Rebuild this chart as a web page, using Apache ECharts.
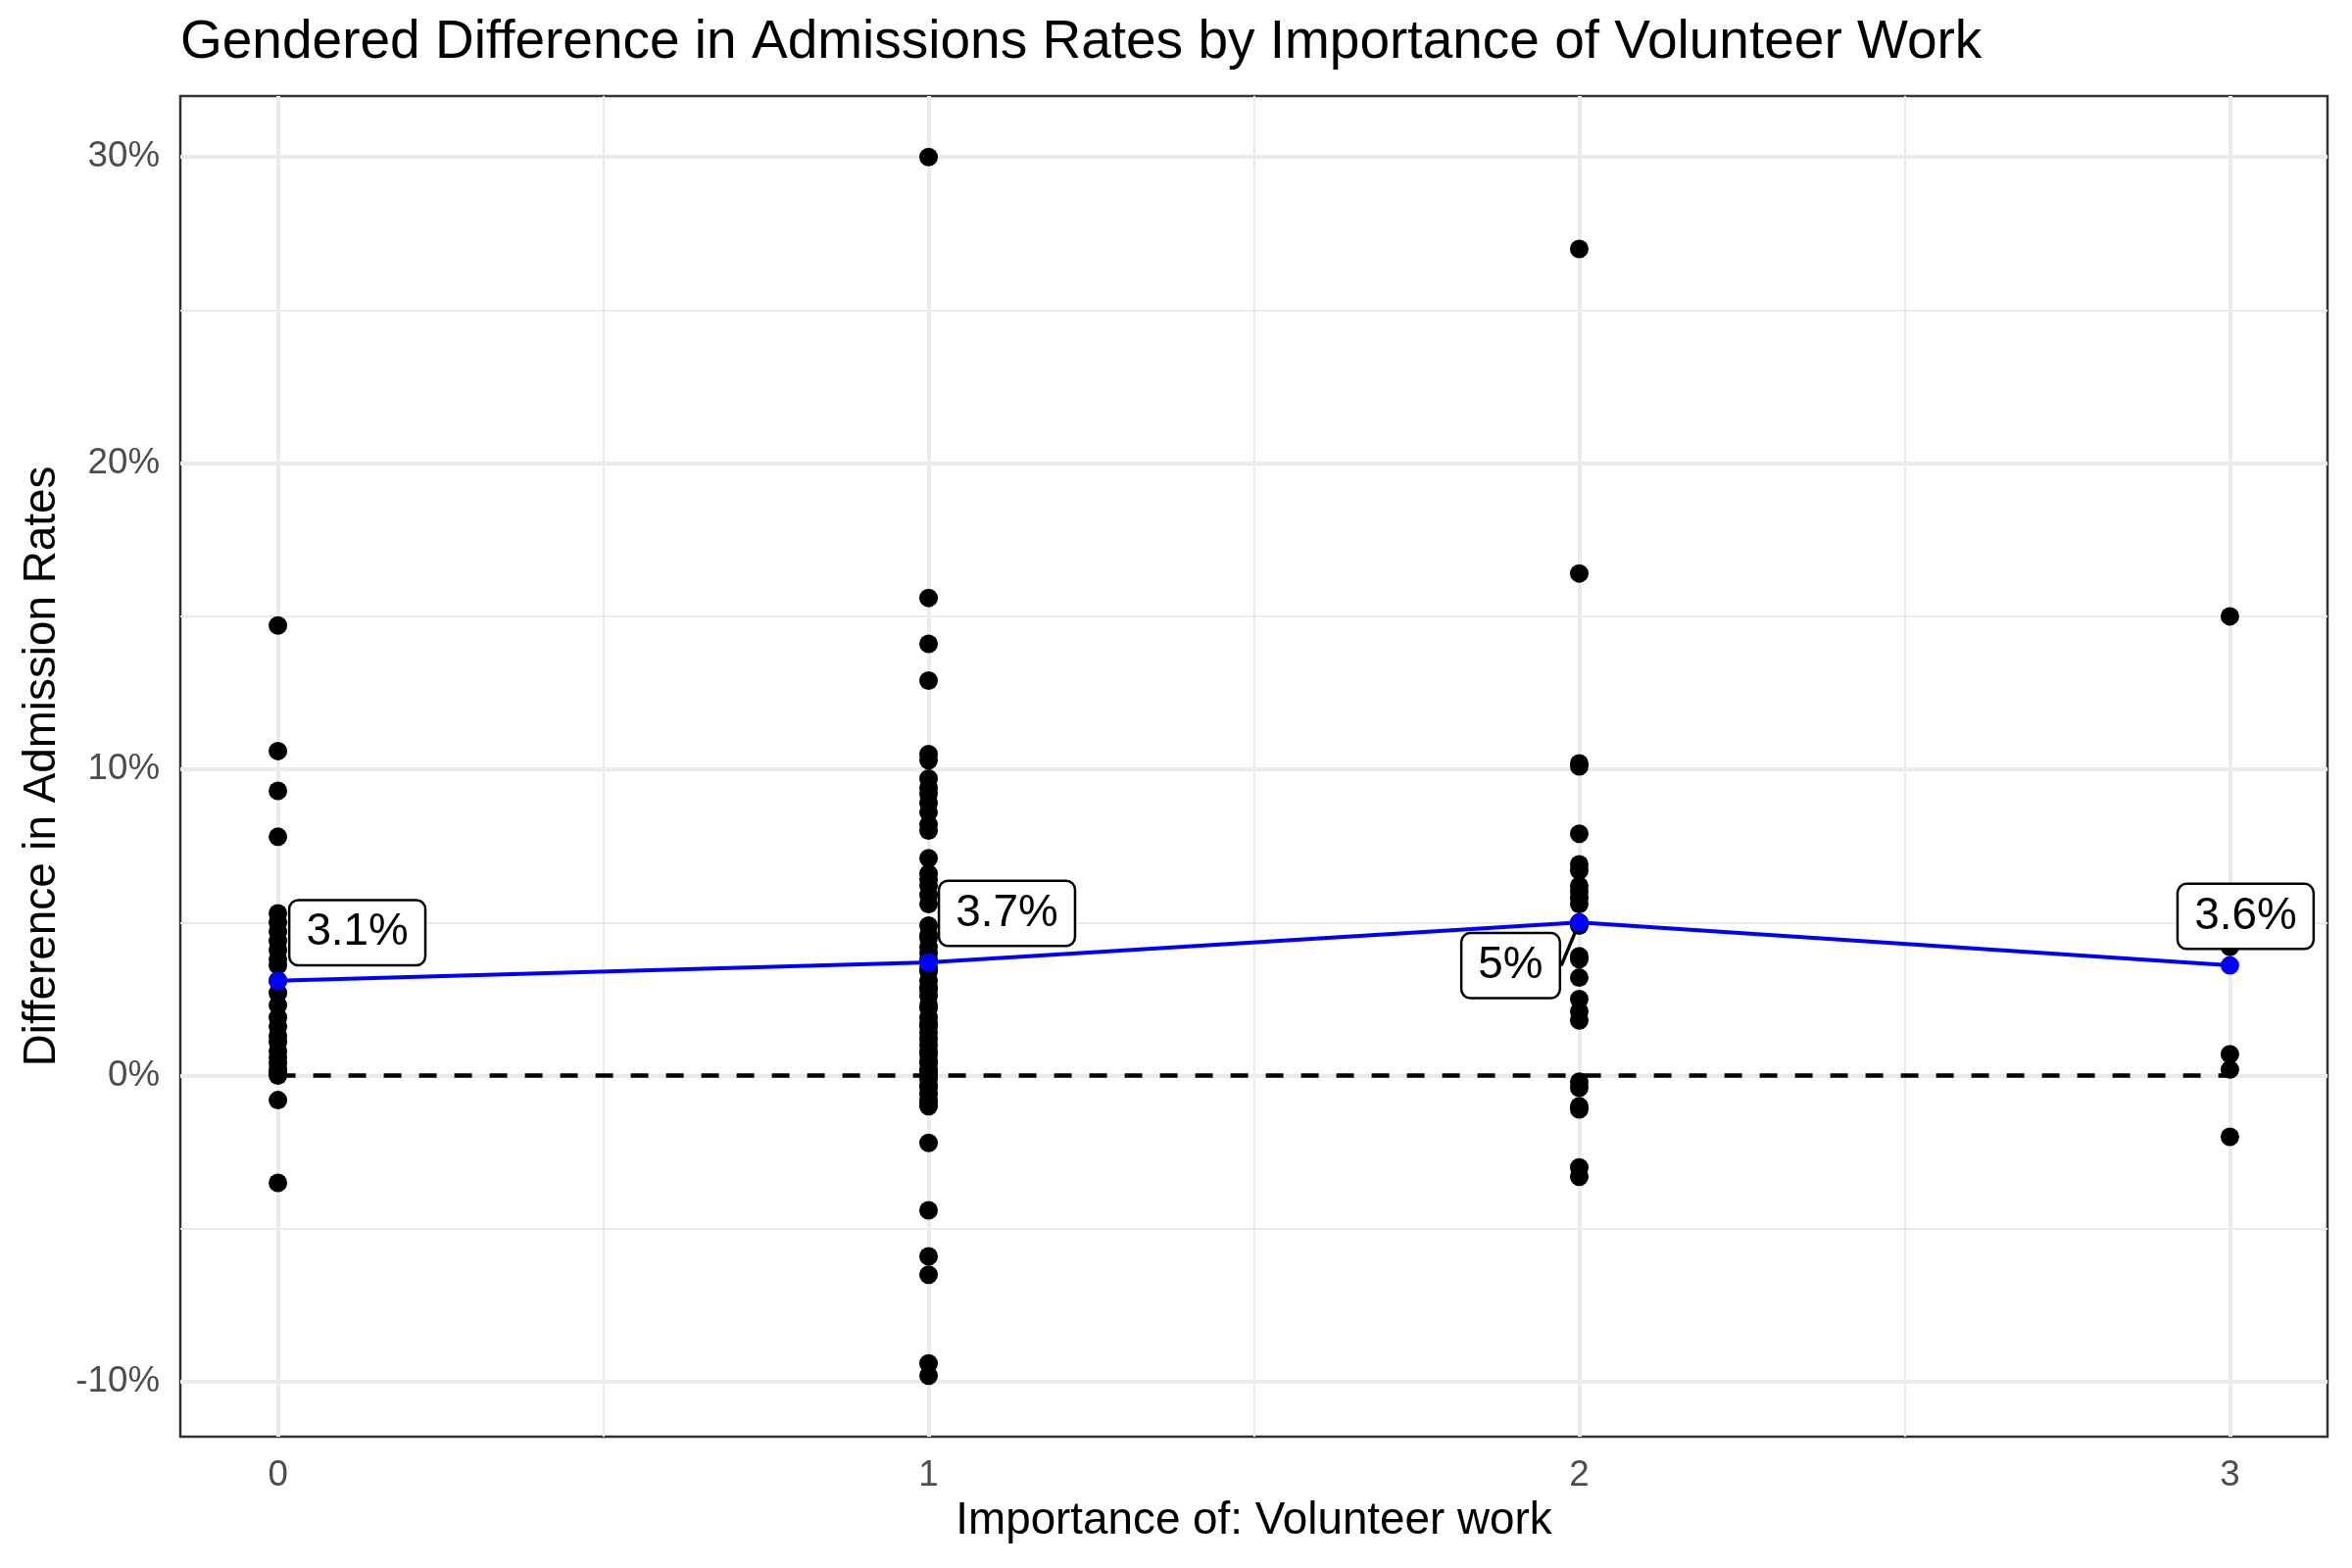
<!DOCTYPE html>
<html>
<head>
<meta charset="utf-8">
<script src="https://cdn.jsdelivr.net/npm/echarts@6/dist/echarts.min.js"></script>
<style>
html,body{margin:0;padding:0;background:#ffffff;}
#chart{width:2400px;height:1600px;}
</style>
</head>
<body>
<div id="chart"></div>
<script>
// ---------------- data ----------------
const chartTitle = 'Gendered Difference in Admissions Rates by Importance of Volunteer Work';
const xAxisTitle = 'Importance of: Volunteer work';
const yAxisTitle = 'Difference in Admission Rates';

const importanceLevels = [0, 1, 2, 3];
const xTickValues = [0, 1, 2, 3];
const xMinorGridValues = [0.5, 1.5, 2.5];
const yTickValues = [-10, 0, 10, 20, 30];
const yMinorGridValues = [-5, 5, 15, 25];

// difference in admission rates (percentage points) per school, by importance level
const diffImportance0 = [14.7, 10.6, 9.3, 7.8, 5.3, 5.0, 4.7, 4.4, 4.1, 3.8, 3.6, 3.1, 2.7, 2.3,
  1.9, 1.6, 1.3, 1.1, 0.8, 0.6, 0.4, 0.2, 0.1, 0.0, -0.8, -3.5];
const diffImportance1 = [30.0, 15.6, 14.1, 12.9, 10.5, 10.3, 9.7, 9.4, 9.2, 8.9, 8.6, 8.2, 8.0,
  7.1, 6.6, 6.4, 6.2, 5.9, 5.6,
  4.9, 4.6, 4.5, 4.2, 4.0, 3.8, 3.5, 3.4, 3.1, 2.9, 2.8, 2.6, 2.3, 2.2, 1.9, 1.7, 1.6, 1.4,
  1.2, 1.0, 0.8, 0.7, 0.5, 0.4, 0.2, 0.1, 0.0, -0.1, -0.3, -0.4, -0.6, -0.8, -0.9, -1.0,
  -2.2, -4.4, -5.9, -6.5, -9.4, -9.8];
const diffImportance2 = [27.0, 16.4, 10.2, 10.1, 7.9, 6.9, 6.7, 6.2, 6.0, 5.8, 5.6, 5.0, 4.9,
  3.9, 3.8, 3.2, 2.5, 2.1, 1.8, -0.2, -0.4, -1.0, -1.1, -3.0, -3.3];
const diffImportance3 = [15.0, 4.2, 0.7, 0.2, -2.0];

// mean difference per importance level
const meanDiff = [3.1, 3.7, 5.0, 3.6];
const meanLabels = ['3.1%', '3.7%', '5%', '3.6%'];
const referenceValue = 0;

// ---------------- build ----------------
const groups = [diffImportance0, diffImportance1, diffImportance2, diffImportance3];
const pointData = [];
groups.forEach((arr, i) => arr.forEach(v => pointData.push([importanceLevels[i], v])));

// ggplot-like 5% expansion of the continuous scales
const allY = pointData.map(p => p[1]);
const yLo = Math.min(...allY), yHi = Math.max(...allY);
const yPad = (yHi - yLo) * 0.05;
const xLo = Math.min(...importanceLevels), xHi = Math.max(...importanceLevels);
const xPad = (xHi - xLo) * 0.05;

const FONT = "'Liberation Sans', Arial, Helvetica, sans-serif";
const GRID_COLOR = '#EBEBEB';

// label placement (pixel offsets from each mean point, like ggrepel)
const labelShift = [[81, -49], [80, -50], [-70, 44], [16, -50]];

const gridLines = []
  .concat(yTickValues.map(v => ({ yAxis: v, lineStyle: { color: GRID_COLOR, width: 4, type: 'solid' } })))
  .concat(yMinorGridValues.map(v => ({ yAxis: v, lineStyle: { color: GRID_COLOR, width: 2, type: 'solid' } })))
  .concat(xTickValues.map(v => ({ xAxis: v, lineStyle: { color: GRID_COLOR, width: 4, type: 'solid' } })))
  .concat(xMinorGridValues.map(v => ({ xAxis: v, lineStyle: { color: GRID_COLOR, width: 2, type: 'solid' } })));

const chart = echarts.init(document.getElementById('chart'), null, { renderer: 'canvas' });

const option = {
  animation: false,
  backgroundColor: '#ffffff',
  textStyle: { fontFamily: FONT },
  title: {
    text: chartTitle,
    left: 184,
    top: 16,
    padding: 0,
    textStyle: { fontFamily: FONT, fontSize: 55, fontWeight: 'normal', color: '#000000' }
  },
  grid: {
    left: 184, right: 25, top: 98, bottom: 134,
    show: true,
    backgroundColor: '#ffffff',
    borderColor: '#333333',
    borderWidth: 2.5
  },
  xAxis: {
    type: 'value',
    min: xLo - xPad,
    max: xHi + xPad,
    name: xAxisTitle,
    nameLocation: 'middle',
    nameGap: 59,
    nameTextStyle: { fontFamily: FONT, fontSize: 45.8, color: '#000000', lineHeight: 46 },
    axisLine: { show: false },
    splitLine: { show: false },
    axisTick: { show: true, customValues: xTickValues, length: 11, lineStyle: { color: '#333333', width: 3.5 } },
    axisLabel: { show: true, customValues: xTickValues, margin: 21, fontFamily: FONT, fontSize: 36.7, color: '#4D4D4D',
      formatter: v => String(v) }
  },
  yAxis: {
    type: 'value',
    min: yLo - yPad,
    max: yHi + yPad,
    name: yAxisTitle,
    nameLocation: 'middle',
    nameRotate: 90,
    nameGap: 118,
    nameTextStyle: { fontFamily: FONT, fontSize: 45.8, color: '#000000', lineHeight: 46 },
    axisLine: { show: false },
    splitLine: { show: false },
    axisTick: { show: true, customValues: yTickValues, length: 11, lineStyle: { color: '#333333', width: 3.5 } },
    axisLabel: { show: true, customValues: yTickValues, margin: 21, fontFamily: FONT, fontSize: 36.7, color: '#4D4D4D',
      formatter: v => Math.round(v) + '%' }
  },
  series: [
    {
      name: 'grid',
      type: 'line',
      data: [],
      z: 1,
      silent: true,
      markLine: {
        z: 1,
        silent: true,
        symbol: ['none', 'none'],
        label: { show: false },
        lineStyle: { type: 'solid' },
        emphasis: { disabled: true },
        data: gridLines
      }
    },
    {
      name: 'schools',
      type: 'scatter',
      data: pointData,
      symbol: 'circle',
      symbolSize: 19,
      itemStyle: { color: '#000000', opacity: 1 },
      z: 3,
      silent: true
    },
    {
      name: 'zero',
      type: 'line',
      data: [[xLo, referenceValue], [xHi, referenceValue]],
      symbol: 'none',
      lineStyle: { color: '#000000', width: 4.5, type: [18, 18], opacity: 1 },
      z: 4,
      silent: true
    },
    {
      name: 'mean line',
      type: 'line',
      data: importanceLevels.map((x, i) => [x, meanDiff[i]]),
      symbol: 'none',
      lineStyle: { color: '#0000FF', width: 4 },
      z: 5,
      silent: true
    },
    {
      name: 'mean',
      type: 'scatter',
      symbol: 'circle',
      symbolSize: 19,
      itemStyle: { color: '#0000FF', opacity: 1 },
      z: 6,
      silent: true,
      data: importanceLevels.map((x, i) => ({
        value: [x, meanDiff[i]],
        labelLine: { show: i === 2, lineStyle: { color: '#000000', width: 3.5 } }
      })),
      label: {
        show: true,
        position: 'inside',
        formatter: p => meanLabels[p.dataIndex],
        fontFamily: FONT,
        fontSize: 45.8,
        lineHeight: 46,
        color: '#000000',
        backgroundColor: '#ffffff',
        borderColor: '#000000',
        borderWidth: 2.5,
        borderRadius: 8,
        padding: [9, 16, 9, 16],
        textBorderWidth: 0
      },
      labelLine: { show: false },
      labelLayout: function (params) {
        const s = labelShift[params.dataIndex];
        return { dx: s[0], dy: s[1] };
      }
    }
  ]
};

chart.setOption(option);
</script>
</body>
</html>
